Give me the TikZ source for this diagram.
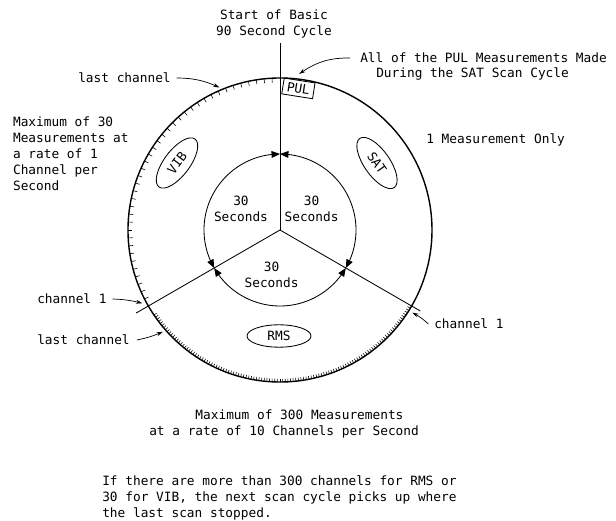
\documentclass[tikz,border=0pt]{standalone}
\usepackage{fontspec}
\setmainfont{DejaVu Sans Mono}
\usepackage{tikz}
\usetikzlibrary{
    arrows.meta,
    bending,
    shapes.geometric
}
\tikzset{
  txt/.style    = {inner sep=0pt, font=\fontsize{9.1}{11.4}\selectfont},
  oval/.style   = {draw, ellipse, inner sep=0pt, line width=0.6pt,
                   font=\fontsize{9.1}{11.4}\selectfont},
  lblarr/.style = {-{Stealth[length=4.5pt,width=2.8pt]}, line width=0.5pt},
  cyc/.style    = {{Triangle[length=6pt,width=4.8pt]}-{Triangle[length=6pt,width=4.8pt]},
                   line width=0.6pt}
}

\begin{document}
\begin{tikzpicture}[
    ring/.style={line width=1pt},
    spoke/.style={line width=0.6pt},
    tick/.style={line width=0.4pt},
    tag/.style={draw, rectangle, inner sep=1.5pt, line width=0.6pt,
                minimum width=0.78cm, minimum height=0.4cm,
                font=\fontsize{9.1}{11.4}\selectfont}
  ]
    \useasboundingbox (-7.0,-7.275) rectangle (8.4,5.75);
    \coordinate (c) at (0,0);
    \coordinate (s1) at (90:4.675);
    \coordinate (s2) at (210:4.15);
    \coordinate (s3) at (330:4.05);
    \draw[ring] (c) circle[radius=3.8];
    \draw[spoke](c)--(s1); \draw[spoke](c)--(s2); \draw[spoke](c)--(s3);
    \foreach \a in {93,96,...,207} \draw[tick] (\a:3.8)--(\a:3.69);
    \foreach \a in {-146,-145,...,-31} \draw[tick] (\a:3.8)--(\a:3.72);
    \draw[cyc] (90:1.9) arc[start angle=90, end angle=210, radius=1.9];
    \draw[cyc] (210:1.9) arc[start angle=210, end angle=330, radius=1.9];
    \draw[cyc] (-30:1.9) arc[start angle=-30, end angle=90, radius=1.9];

    \node[txt, align=center](start) at (-0.15,5.14) {Start of Basic\\90 Second Cycle};
    \node[txt, anchor=west](pul1) at (2.0,4.3) {All of the PUL Measurements Made};
    \node[txt, anchor=west](pul2) at (2.4,3.9) {During the SAT Scan Cycle};
    \node[txt, anchor=west](one) at (3.65,2.25) {1 Measurement Only};
    \node[txt, anchor=west](lastA) at (-5.05,3.8) {last channel};
    \node[txt, anchor=west, align=left](maxA) at (-6.68,1.91)
        {Maximum of 30\\Measurements at\\a rate of 1\\Channel per\\Second};
    \node[txt, anchor=west](chA) at (-6.075,-1.725) {channel 1};
    \node[txt, anchor=west](lastB) at (-6.075,-2.75) {last channel};
    \node[txt, anchor=west](chB) at (3.85,-2.35) {channel 1};
    \node[txt, anchor=west, align=left](maxB) at (-3.275,-4.85)
        {\hphantom{xxxxxx}Maximum of 300 Measurements\\at a rate of 10 Channels per Second};
    \node[txt, anchor=west, align=left](note) at (-4.45,-6.7)
        {If there are more than 300 channels for RMS or\\30 for VIB, the next scan cycle picks up where\\the last scan stopped.};

    \node[txt, align=center](secA) at (-0.975,0.54) {30\\Seconds};
    \node[txt, align=center](secB) at (0.79,0.54) {30\\Seconds};
    \node[txt, align=center](secC) at (-0.21,-1.125) {30\\Seconds};

    \node[oval, rotate=53, minimum width=1.5cm, minimum height=0.64cm](vib) at (-2.575,1.675) {VIB};
    \node[oval, rotate=-55, minimum width=1.5cm, minimum height=0.64cm](sat) at (2.425,1.675) {SAT};
    \node[oval, minimum width=1.6cm, minimum height=0.56cm](rms) at (-0.025,-2.65) {RMS};
    \node[tag, rotate=-9](pul) at (0.46,3.54) {PUL};

    \coordinate (pultip) at (83:3.93);
    \coordinate (lastAtip) at (113:3.87);
    \coordinate (chAtip) at (208:3.9);
    \coordinate (lastBtip) at (221:3.88);
    \coordinate (chBtip) at (-32:3.9);
    \draw[lblarr]([xshift=-7pt]pul1.west) to[bend right=18] (pultip);
    \draw[lblarr]([xshift=4pt]lastA.east) to[bend left=12] (lastAtip);
    \draw[lblarr]([xshift=4pt]chA.east) to[bend left=6] (chAtip);
    \draw[lblarr]([xshift=5pt]lastB.east) to[bend right=6] (lastBtip);
    \draw[lblarr]([xshift=-4pt]chB.west) to[bend right=8] (chBtip);
\end{tikzpicture}
\end{document}
